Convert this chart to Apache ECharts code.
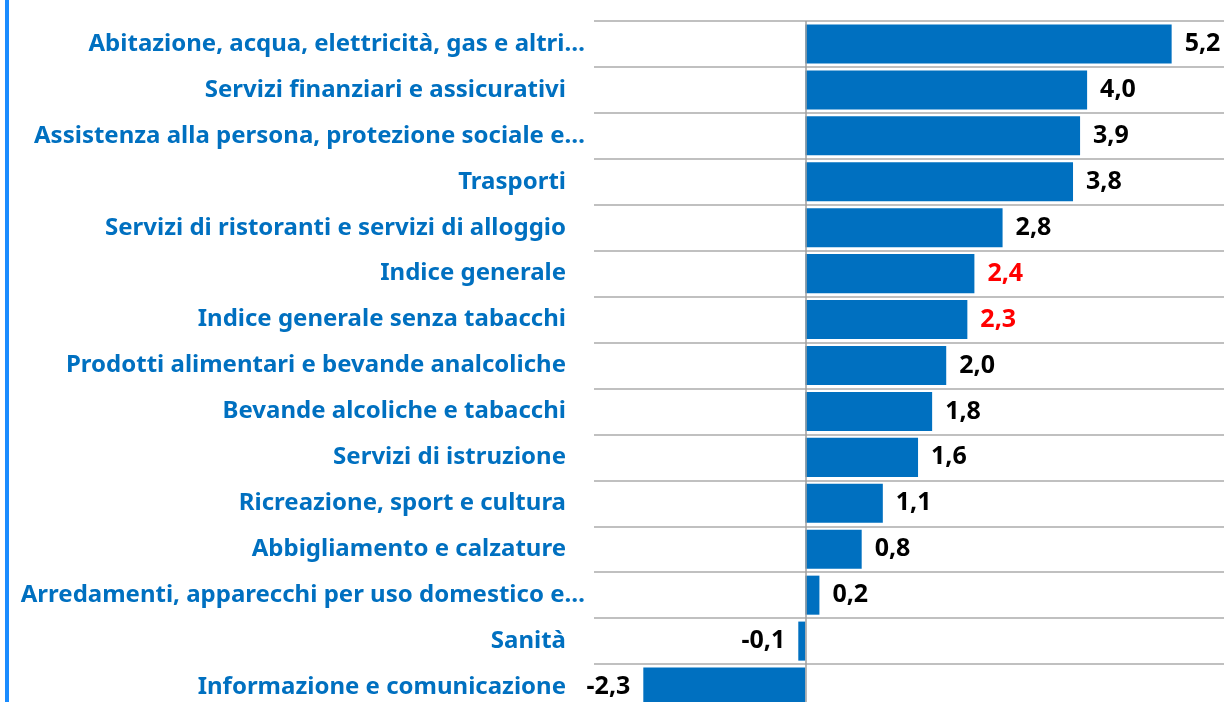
<!DOCTYPE html>
<html>
<head>
<meta charset="utf-8">
<script src="https://cdn.jsdelivr.net/npm/echarts@6/dist/echarts.min.js"></script>
<style>
html,body{margin:0;padding:0;background:#fff;}
#c{width:1224px;height:702px;}
</style>
</head>
<body>
<div id="c"></div>
<script>
const categories = [
  "Abitazione, acqua, elettricità, gas e altri…",
  "Servizi finanziari e assicurativi",
  "Assistenza alla persona, protezione sociale e…",
  "Trasporti",
  "Servizi di ristoranti e servizi di alloggio",
  "Indice generale",
  "Indice generale senza tabacchi",
  "Prodotti alimentari e bevande analcoliche",
  "Bevande alcoliche e tabacchi",
  "Servizi di istruzione",
  "Ricreazione, sport e cultura",
  "Abbigliamento e calzature",
  "Arredamenti, apparecchi per uso domestico e…",
  "Sanità",
  "Informazione e comunicazione"
];
const values = [5.2, 4.0, 3.9, 3.8, 2.8, 2.4, 2.3, 2.0, 1.8, 1.6, 1.1, 0.8, 0.2, -0.1, -2.3];
const highlighted = ["Indice generale", "Indice generale senza tabacchi"];
const axisMin = -3, axisMax = 6;

const FONT = "'Noto Sans', 'DejaVu Sans', sans-serif";
const chart = echarts.init(document.getElementById('c'), null, {renderer: 'canvas'});

const data = values.map((v, i) => ({
  value: v,
  label: {
    position: v < 0 ? 'left' : 'right',
    color: highlighted.includes(categories[i]) ? '#FF0000' : '#000000'
  }
}));

chart.setOption({
  animation: false,
  backgroundColor: '#ffffff',
  graphic: [{
    type: 'rect',
    shape: {x: 5, y: 0, width: 4, height: 702},
    style: {fill: '#1A8CFF'},
    z: 10
  }],
  grid: {left: 594, top: 21, width: 634, height: 689, containLabel: false, outerBoundsMode: 'none'},
  xAxis: {
    type: 'value', min: axisMin, max: axisMax,
    axisLine: {show: false}, axisTick: {show: false},
    axisLabel: {show: false}, splitLine: {show: false}
  },
  yAxis: {
    type: 'category', data: categories, inverse: true,
    axisLine: {show: false, onZero: false}, axisTick: {show: false},
    splitLine: {show: true, lineStyle: {color: '#ABABAB', width: 1.5}},
    axisLabel: {
      margin: 9,
      formatter: function (v) {
        return v.endsWith('…') ? '{e|' + v + '}' : '{n|' + v + '}';
      },
      rich: {
        e: {fontFamily: FONT, fontWeight: 'bold', fontSize: 24, color: '#0070C0'},
        n: {fontFamily: FONT, fontWeight: 'bold', fontSize: 24, color: '#0070C0', padding: [0, 19, 0, 0]}
      }
    }
  },
  series: [{
    type: 'bar',
    data: data,
    barCategoryGap: '15%',
    itemStyle: {color: '#0070C0'},
    label: {
      show: true, distance: 13,
      fontFamily: FONT, fontWeight: 'bold', fontSize: 25,
      formatter: p => p.value.toFixed(1).replace('.', ',')
    },
    markLine: {
      silent: true, symbol: 'none',
      label: {show: false},
      lineStyle: {color: '#A0A0A0', width: 1.5, type: 'solid'},
      data: [{xAxis: 0}]
    }
  }]
});
</script>
</body>
</html>
